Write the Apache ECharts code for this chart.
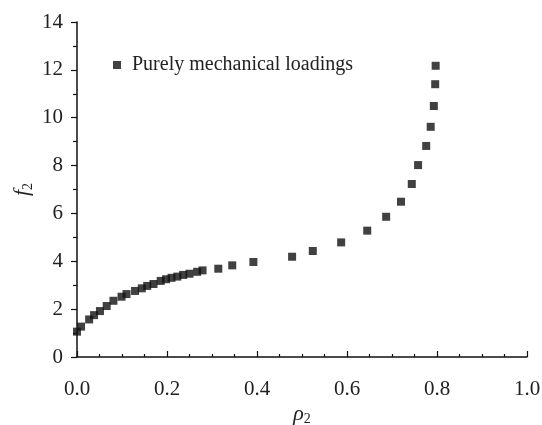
<!DOCTYPE html>
<html>
<head>
<meta charset="utf-8">
<script src="https://cdn.jsdelivr.net/npm/echarts@6/dist/echarts.min.js"></script>
<style>
  html, body { margin: 0; padding: 0; background: #fff; }
  #chart { width: 542px; height: 425px; }
</style>
</head>
<body>
<div id="chart"></div>
<script>
// values
var rho2 = [0.0, 0.009, 0.027, 0.038, 0.051, 0.066, 0.081, 0.099, 0.11, 0.129,
            0.144, 0.156, 0.17, 0.186, 0.198, 0.21, 0.223, 0.236, 0.25, 0.267,
            0.279, 0.314, 0.345, 0.392, 0.478, 0.524, 0.587, 0.645, 0.687, 0.72,
            0.744, 0.758, 0.776, 0.786, 0.793, 0.796, 0.797]
var f2 = [1.06, 1.27, 1.57, 1.75, 1.92, 2.13, 2.35, 2.52, 2.63, 2.76,
          2.87, 2.97, 3.05, 3.18, 3.25, 3.31, 3.36, 3.43, 3.48, 3.56,
          3.62, 3.69, 3.83, 3.97, 4.19, 4.43, 4.79, 5.28, 5.86, 6.49,
          7.23, 8.02, 8.82, 9.62, 10.49, 11.4, 12.17]
var seriesName = 'Purely mechanical loadings'

var points = []
for (let i = 0; i < rho2.length; i++) {
    points.push([rho2[i], f2[i]])
}

var serif = 'Liberation Serif'

var option = {
    animation: false,
    textStyle: { fontFamily: serif },
    grid: { left: 77, right: 15, top: 22, bottom: 68, containLabel: false, outerBoundsMode: 'none' },
    legend: {
        data: [seriesName],
        left: 108,
        top: 50,
        icon: 'rect',
        itemWidth: 8,
        itemHeight: 8,
        itemGap: 10,
        textStyle: { fontFamily: serif, fontSize: 20, color: '#222', padding: [0, 0, 0, 6] }
    },
    xAxis: {
        type: 'value',
        min: 0,
        max: 1,
        interval: 0.2,
        name: '{i|ρ}{s|2}',
        nameLocation: 'middle',
        nameGap: 45,
        nameMoveOverlap: false,
        nameTextStyle: {
            rich: {
                i: { fontFamily: serif, fontStyle: 'italic', fontSize: 22, color: '#222', lineHeight: 24 },
                s: { fontFamily: serif, fontSize: 14, color: '#222', lineHeight: 24, verticalAlign: 'bottom', padding: [9, 0, 0, 0] }
            }
        },
        axisLine: { lineStyle: { color: '#111', width: 1.5 } },
        axisTick: { inside: true, length: 6, lineStyle: { color: '#111', width: 1.2 } },
        minorTick: { show: true, splitNumber: 4, length: 3, lineStyle: { color: '#111', width: 1.2 } },
        splitLine: { show: false },
        axisLabel: {
            fontFamily: serif, fontSize: 21, color: '#222', margin: 22,
            formatter: function (v) { return v.toFixed(1) }
        }
    },
    yAxis: {
        type: 'value',
        min: 0,
        max: 14,
        interval: 2,
        name: '{i|f}{s|2}',
        nameLocation: 'middle',
        nameGap: 42,
        nameMoveOverlap: false,
        nameTextStyle: {
            rich: {
                i: { fontFamily: serif, fontStyle: 'italic', fontSize: 22, color: '#222', lineHeight: 26 },
                s: { fontFamily: serif, fontSize: 14, color: '#222', lineHeight: 26, verticalAlign: 'bottom', padding: [10, 0, 0, 0] }
            }
        },
        axisLine: { show: true, lineStyle: { color: '#111', width: 1.5 } },
        axisTick: { show: true, inside: false, length: 6, lineStyle: { color: '#111', width: 1.2 } },
        minorTick: { show: true, splitNumber: 2, length: 4, lineStyle: { color: '#111', width: 1.2 } },
        splitLine: { show: false },
        axisLabel: { fontFamily: serif, fontSize: 21, color: '#222', margin: 14 }
    },
    series: [
        {
            name: seriesName,
            type: 'scatter',
            symbol: 'rect',
            symbolSize: 8,
            itemStyle: { color: '#111' },
            data: points
        }
    ]
}

var myChart = echarts.init(document.getElementById('chart'))
myChart.setOption(option)
</script>
</body>
</html>
